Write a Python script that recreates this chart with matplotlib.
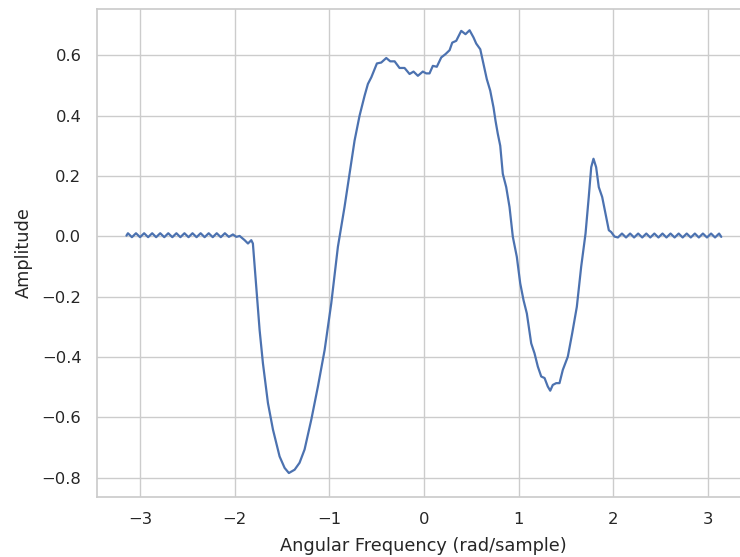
import matplotlib
matplotlib.use("Agg")
import matplotlib.pyplot as plt
import seaborn as sns

sns.set_theme(style="whitegrid")
plt.rcParams['font.family'] = ['DejaVu Sans']

# Left ripple region
left_x = [-3.142, -3.126, -3.084, -3.041, -2.998, -2.955, -2.913, -2.870, -2.828,
          -2.785, -2.742, -2.700, -2.657, -2.614, -2.572, -2.529, -2.486, -2.444,
          -2.401, -2.358, -2.316, -2.273, -2.230, -2.188, -2.145, -2.102, -2.060,
          -2.017, -1.981, -1.946]
left_y = [0.002, 0.010, -0.003, 0.010, -0.003, 0.010, -0.003, 0.010, -0.003,
          0.010, -0.003, 0.010, -0.003, 0.010, -0.003, 0.010, -0.003, 0.010,
          -0.003, 0.010, -0.003, 0.010, -0.003, 0.010, -0.003, 0.010, -0.002,
          0.006, -0.002, 0.001]

# Main structure
mid_x = [-1.893, -1.858, -1.823, -1.806, -1.770, -1.735, -1.700, -1.647, -1.594,
         -1.524, -1.471, -1.426, -1.365, -1.313, -1.260, -1.189, -1.119, -1.048,
         -0.978, -0.908, -0.838, -0.785, -0.732, -0.679, -0.626, -0.591, -0.555,
         -0.520, -0.496, -0.450, -0.397, -0.355, -0.309, -0.257, -0.204, -0.151,
         -0.109, -0.063, -0.011, 0.025, 0.060, 0.095, 0.137, 0.184, 0.229, 0.272,
         0.300, 0.342, 0.395, 0.440, 0.483, 0.525, 0.553, 0.596, 0.630, 0.665,
         0.701, 0.736, 0.757, 0.781, 0.807, 0.834, 0.870, 0.905, 0.940, 0.982,
         1.018, 1.053, 1.088, 1.134, 1.169, 1.204, 1.240, 1.275, 1.309, 1.335,
         1.362, 1.398, 1.433, 1.468, 1.521, 1.567, 1.616, 1.662, 1.708, 1.742,
         1.768, 1.792, 1.820, 1.848, 1.884, 1.919, 1.954, 1.979, 2.014]
mid_y = [-0.013, -0.024, -0.013, -0.024, -0.168, -0.311, -0.421, -0.553, -0.641,
         -0.730, -0.768, -0.785, -0.774, -0.751, -0.707, -0.608, -0.498, -0.377,
         -0.222, -0.035, 0.097, 0.207, 0.317, 0.400, 0.466, 0.505, 0.527,
         0.554, 0.573, 0.576, 0.591, 0.580, 0.580, 0.558, 0.558, 0.538,
         0.546, 0.532, 0.546, 0.540, 0.540, 0.565, 0.562, 0.593, 0.604, 0.617,
         0.642, 0.648, 0.681, 0.670, 0.683, 0.659, 0.639, 0.620, 0.571, 0.521,
         0.483, 0.427, 0.383, 0.340, 0.300, 0.207, 0.163, 0.097, -0.002, -0.068,
         -0.156, -0.212, -0.256, -0.355, -0.388, -0.432, -0.465, -0.470, -0.498, -0.512,
         -0.493, -0.487, -0.487, -0.443, -0.399, -0.322, -0.234, -0.101, 0.009, 0.130,
         0.229, 0.257, 0.229, 0.163, 0.130, 0.075, 0.020, 0.014, -0.001]

# Right ripple region
right_x = [2.050, 2.093, 2.136, 2.179, 2.221, 2.264, 2.307, 2.350, 2.392, 2.435,
           2.478, 2.521, 2.563, 2.606, 2.649, 2.692, 2.734, 2.777, 2.820, 2.863,
           2.905, 2.948, 2.991, 3.034, 3.076, 3.119, 3.142]
right_y = [-0.004, 0.009, -0.004, 0.009, -0.004, 0.009, -0.004, 0.009, -0.004, 0.009,
           -0.004, 0.009, -0.004, 0.009, -0.004, 0.009, -0.004, 0.009, -0.004, 0.009,
           -0.004, 0.009, -0.004, 0.009, -0.004, 0.009, -0.002]

x = left_x + mid_x + right_x
y = left_y + mid_y + right_y

fig = plt.figure(figsize=(7.4, 5.57), dpi=100)
ax = fig.add_axes([96.7 / 740, 1 - 496.7 / 557, (751 - 96.7) / 740, (496.7 - 9) / 557])
ax.plot(x, y, color="#4C72B0", linewidth=1.6)
ax.set_xlim(-3.456, 3.456)
ax.set_ylim(-0.8635, 0.7535)
ax.set_xticks([-3, -2, -1, 0, 1, 2, 3])
ax.set_yticks([-0.8, -0.6, -0.4, -0.2, 0.0, 0.2, 0.4, 0.6])
ax.tick_params(labelsize=11.8, pad=5)
ax.set_xlabel("Angular Frequency (rad/sample)", fontsize=12.8, labelpad=7)
ax.set_ylabel("Amplitude", fontsize=12.8, labelpad=6)
fig.savefig("out.png", dpi=100)
